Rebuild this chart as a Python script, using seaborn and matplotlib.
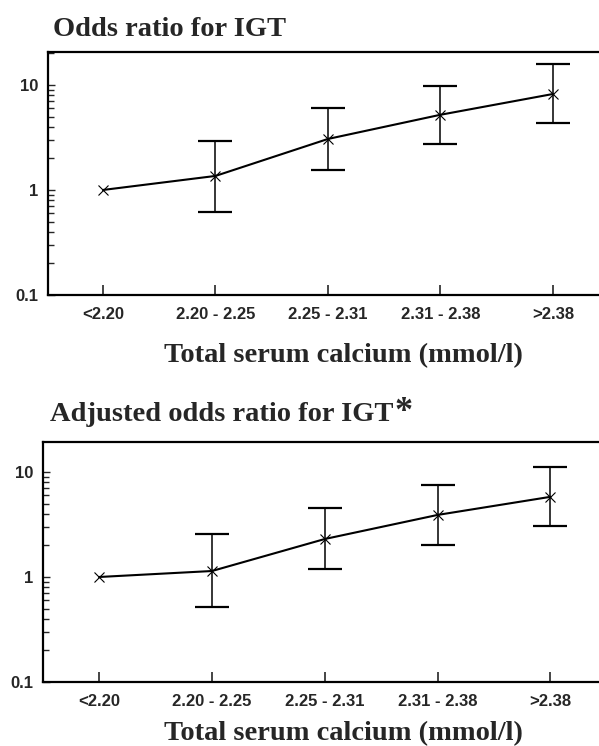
import numpy as np
import pandas as pd
import seaborn as sns
import matplotlib.pyplot as plt
from matplotlib.ticker import LogLocator, NullFormatter, FixedLocator, FixedFormatter

# Categories of total serum calcium (mmol/l)
categories = ['<2.20', '2.20 - 2.25', '2.25 - 2.31', '2.31 - 2.38', '>2.38']

# Crude odds ratio with 95% CI
or_crude = [1.0, 1.36, 3.06, 5.2, 8.2]
or_crude_low = [1.0, 0.62, 1.55, 2.74, 4.35]
or_crude_high = [1.0, 2.93, 6.0, 9.8, 15.8]

# Adjusted odds ratio with 95% CI
or_adj = [1.0, 1.14, 2.3, 3.9, 5.8]
or_adj_low = [1.0, 0.52, 1.19, 2.02, 3.06]
or_adj_high = [1.0, 2.57, 4.5, 7.5, 11.2]

sns.set_style('ticks')
plt.rcParams['font.family'] = ['Liberation Sans', 'DejaVu Sans']

fig = plt.figure(figsize=(5.99, 7.46), dpi=100)
ax1 = fig.add_axes([0.0801, 0.6046, 0.9199, 0.3257])
ax2 = fig.add_axes([0.0718, 0.0858, 0.9282, 0.3217])

serif = ['Liberation Serif', 'DejaVu Serif']


def draw_panel(ax, est, low, high, xlim, top):
    df = pd.DataFrame({'x': np.arange(len(categories)), 'OR': est})
    sns.lineplot(data=df, x='x', y='OR', ax=ax, color='black', lw=1.5,
                 marker='x', markersize=6.5, markeredgewidth=0.8, markeredgecolor='black')
    est = np.array(est)
    yerr = np.vstack([est - np.array(low), np.array(high) - est])
    ax.errorbar(df['x'][1:], est[1:], yerr=yerr[:, 1:], fmt='none', ecolor='black',
                elinewidth=1.1, capsize=12.5, capthick=1.6)
    ax.set_yscale('log')
    ax.set_ylim(0.1, top)
    ax.set_xlim(*xlim)
    ax.yaxis.set_major_locator(FixedLocator([0.1, 1, 10]))
    ax.yaxis.set_major_formatter(FixedFormatter(['0.1', '1', '10']))
    ax.yaxis.set_minor_locator(LogLocator(base=10, subs=np.arange(2, 10)))
    ax.yaxis.set_minor_formatter(NullFormatter())
    ax.set_xticks(range(len(categories)))
    ax.set_xticklabels(categories)
    ax.tick_params(axis='y', which='both', direction='in', width=1.0, labelsize=12)
    ax.tick_params(axis='y', which='major', length=5, pad=7)
    ax.tick_params(axis='y', which='minor', length=4)
    ax.tick_params(axis='x', direction='in', length=7, width=1.2, labelsize=12, pad=9)
    for lbl in ax.get_xticklabels() + ax.get_yticklabels():
        lbl.set_fontweight('bold')
    for s in ['left', 'bottom', 'top']:
        ax.spines[s].set_linewidth(1.6)
        ax.spines[s].set_color('black')
    ax.spines['right'].set_visible(False)
    ax.set_xlabel('')
    ax.set_ylabel('')


draw_panel(ax1, or_crude, or_crude_low, or_crude_high, (-0.489, 4.41), 20.6)
draw_panel(ax2, or_adj, or_adj_low, or_adj_high, (-0.497, 4.43), 19.3)

fig.text(0.0885, 0.9517, 'Odds ratio for IGT', family=serif, fontweight='bold',
         fontsize=20.5, ha='left', va='baseline')
fig.text(0.5726, 0.5147, 'Total serum calcium (mmol/l)', family=serif, fontweight='bold',
         fontsize=20.5, ha='center', va='baseline')
t2 = fig.text(0.0835, 0.4357, 'Adjusted odds ratio for IGT', family=serif, fontweight='bold',
              fontsize=20.5, ha='left', va='baseline')
fig.canvas.draw()
bb = t2.get_window_extent()
fig.text((bb.x1 + 1) / fig.bbox.width, 0.4357, '*', family=serif, fontweight='bold',
         fontsize=26, ha='left', va='baseline')
fig.text(0.5726, 0.0075, 'Total serum calcium (mmol/l)', family=serif, fontweight='bold',
         fontsize=20.5, ha='center', va='baseline')

fig.savefig('out.png', dpi=100, facecolor='white')
